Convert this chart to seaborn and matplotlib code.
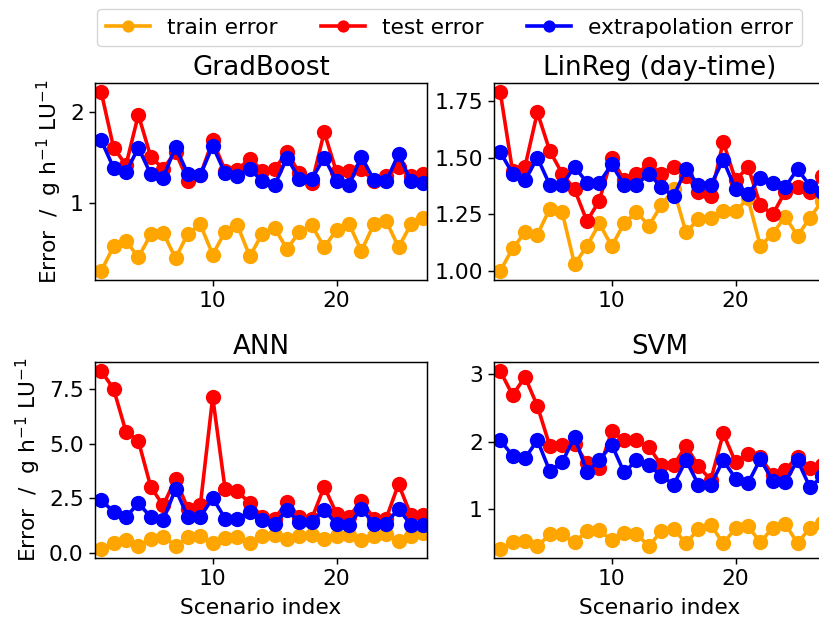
import numpy as np
import pandas as pd
import matplotlib
matplotlib.use("Agg")
import matplotlib.pyplot as plt
import seaborn as sns

scenarios = list(range(1, 28))

gb_train = [0.26, 0.53, 0.59, 0.41, 0.66, 0.68, 0.40, 0.67, 0.77, 0.44, 0.69, 0.76, 0.42, 0.67,
            0.73, 0.50, 0.69, 0.76, 0.52, 0.71, 0.78, 0.48, 0.77, 0.81, 0.52, 0.77, 0.84]
gb_test = [2.22, 1.61, 1.42, 1.97, 1.51, 1.38, 1.56, 1.25, 1.31, 1.69, 1.36, 1.37, 1.49, 1.36,
           1.38, 1.56, 1.33, 1.22, 1.78, 1.34, 1.36, 1.38, 1.24, 1.30, 1.40, 1.30, 1.32]
gb_extra = [1.69, 1.39, 1.34, 1.61, 1.32, 1.28, 1.62, 1.32, 1.31, 1.63, 1.33, 1.30, 1.38, 1.24,
            1.20, 1.50, 1.27, 1.27, 1.50, 1.24, 1.20, 1.51, 1.26, 1.24, 1.54, 1.24, 1.22]

lr_train = [1.00, 1.10, 1.17, 1.16, 1.275, 1.26, 1.03, 1.11, 1.21, 1.11, 1.21, 1.26, 1.20, 1.29,
            1.36, 1.17, 1.23, 1.235, 1.265, 1.265, 1.32, 1.11, 1.165, 1.24, 1.155, 1.235, 1.31]
lr_test = [1.79, 1.44, 1.46, 1.70, 1.53, 1.43, 1.36, 1.22, 1.31, 1.50, 1.40, 1.43, 1.47, 1.43,
           1.46, 1.42, 1.35, 1.33, 1.57, 1.40, 1.46, 1.29, 1.25, 1.35, 1.37, 1.35, 1.42]
lr_extra = [1.525, 1.43, 1.40, 1.50, 1.38, 1.38, 1.46, 1.39, 1.39, 1.47, 1.38, 1.38, 1.43, 1.37,
            1.33, 1.45, 1.38, 1.38, 1.49, 1.36, 1.34, 1.41, 1.39, 1.37, 1.45, 1.375, 1.35]

ann_train = [0.18, 0.48, 0.60, 0.33, 0.63, 0.75, 0.33, 0.72, 0.78, 0.45, 0.68, 0.75, 0.48, 0.78,
             0.83, 0.63, 0.78, 0.83, 0.63, 0.78, 0.83, 0.60, 0.78, 0.87, 0.53, 0.78, 0.90]
ann_test = [8.33, 7.51, 5.55, 5.13, 3.03, 2.18, 3.38, 2.03, 2.18, 7.13, 2.93, 2.82, 2.28, 1.65,
            1.58, 2.33, 1.65, 1.58, 3.03, 1.80, 1.65, 2.40, 1.58, 1.58, 3.15, 1.73, 1.73]
ann_extra = [2.43, 1.88, 1.65, 2.28, 1.65, 1.50, 2.93, 1.65, 1.65, 2.52, 1.58, 1.58, 1.88, 1.50,
             1.35, 1.95, 1.43, 1.43, 1.98, 1.32, 1.28, 2.03, 1.35, 1.35, 2.03, 1.28, 1.28]

svm_train = [0.40, 0.50, 0.52, 0.44, 0.62, 0.62, 0.50, 0.67, 0.68, 0.53, 0.64, 0.63, 0.44, 0.67,
             0.70, 0.485, 0.70, 0.76, 0.485, 0.71, 0.74, 0.50, 0.72, 0.78, 0.485, 0.72, 0.79]
svm_test = [3.05, 2.69, 2.96, 2.53, 1.935, 1.945, 1.97, 1.68, 1.60, 2.15, 2.02, 2.02, 1.92, 1.65,
            1.65, 1.935, 1.63, 1.43, 2.12, 1.69, 1.82, 1.77, 1.50, 1.58, 1.77, 1.61, 1.65]
svm_extra = [2.02, 1.79, 1.75, 2.02, 1.56, 1.69, 2.07, 1.55, 1.72, 1.955, 1.54, 1.72, 1.65, 1.49,
             1.36, 1.72, 1.36, 1.36, 1.72, 1.45, 1.38, 1.74, 1.41, 1.40, 1.72, 1.32, 1.48]

labels = ["train error", "test error", "extrapolation error"]
colors = ["orange", "red", "blue"]

models = {
    "GradBoost": (gb_train, gb_test, gb_extra, [1, 2]),
    "LinReg (day-time)": (lr_train, lr_test, lr_extra, [1.00, 1.25, 1.50, 1.75]),
    "ANN": (ann_train, ann_test, ann_extra, [0.0, 2.5, 5.0, 7.5]),
    "SVM": (svm_train, svm_test, svm_extra, [1, 2, 3]),
}

plt.rcParams.update({"font.size": 15.7, "axes.titlesize": 18.8,
                     "axes.linewidth": 1.05, "xtick.major.size": 4.6, "ytick.major.size": 4.6,
                     "xtick.major.width": 1.05, "ytick.major.width": 1.05})

fig = plt.figure(figsize=(8.19, 6.23), dpi=100)
w, h = 0.4054, 0.3162
positions = [(0.116, 0.5506), (0.6032, 0.5506), (0.116, 0.1043), (0.6032, 0.1043)]
ylabel = r"Error  /  g h$^{-1}$ LU$^{-1}$"

for k, (name, (tr, te, ex, yt)) in enumerate(models.items()):
    ax = fig.add_axes([positions[k][0], positions[k][1], w, 0.3146 if k >= 2 else h])
    df = pd.DataFrame({
        "scenario": scenarios * 3,
        "error": tr + te + ex,
        "kind": [labels[0]] * 27 + [labels[1]] * 27 + [labels[2]] * 27,
    })
    sns.lineplot(data=df, x="scenario", y="error", hue="kind", hue_order=labels,
                 palette=colors, marker="o", markersize=11, markeredgewidth=0,
                 linewidth=2.6, ax=ax, legend=(k == 0))
    ax.set_title(name, pad=6)
    ax.set_xlim(0.5, 27.3)
    ax.set_xticks([10, 20])
    ax.set_yticks(yt)
    if name == "LinReg (day-time)":
        ax.set_yticklabels([f"{v:.2f}" for v in yt])
    elif name == "ANN":
        ax.set_yticklabels([f"{v:.1f}" for v in yt])
    ax.set_ylabel(ylabel if k % 2 == 0 else "")
    ax.set_xlabel("Scenario index" if k >= 2 else "", labelpad=6)
    if k == 0:
        handles, lbls = ax.get_legend_handles_labels()
        ax.get_legend().remove()

fig.legend(handles, lbls, loc="upper center", ncol=3, bbox_to_anchor=(0.549, 1.003),
           handlelength=2.0, columnspacing=2.0, handletextpad=0.8, markerscale=0.8)

fig.savefig("out.png", dpi=100)
